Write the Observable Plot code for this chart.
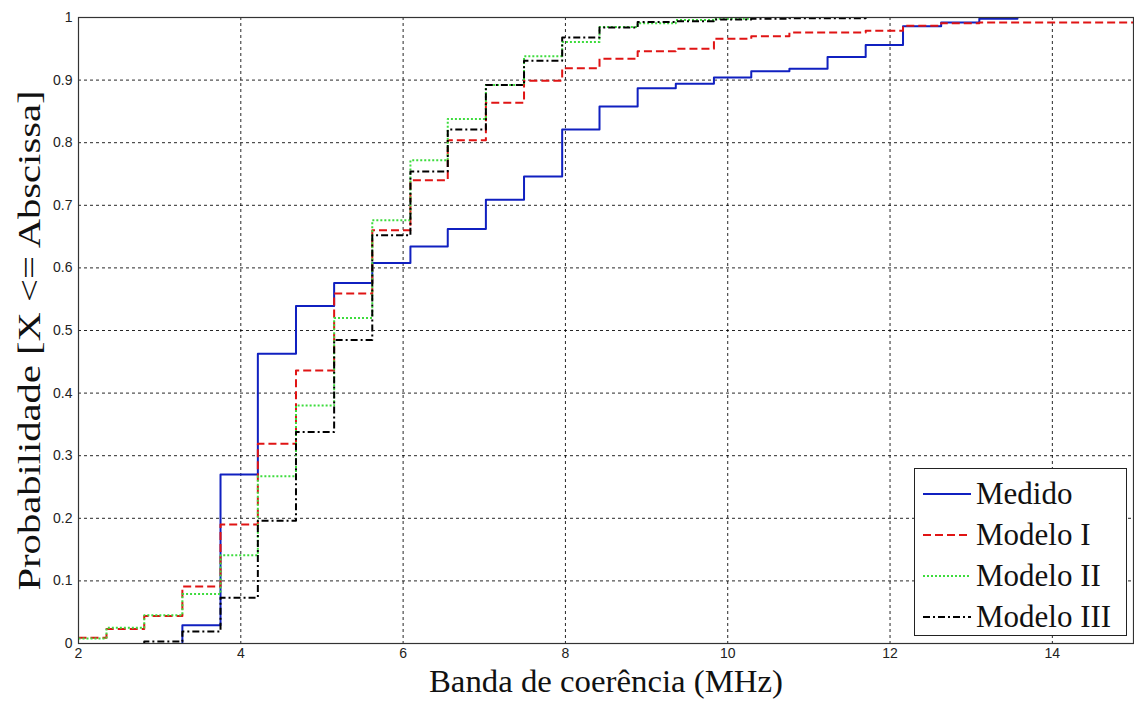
<!DOCTYPE html>
<html><head><meta charset="utf-8">
<script src="https://cdn.jsdelivr.net/npm/d3@7"></script>
<script src="https://cdn.jsdelivr.net/npm/@observablehq/plot@0.6"></script>
<style>
body{margin:0;background:#fff;}
#wrap{position:relative;width:1134px;height:703px;}
#legend{position:absolute;left:914px;top:468px;width:213px;height:168px;box-sizing:border-box;border:1px solid #222;background:#fff;font-family:"Liberation Serif","Times New Roman",serif;font-size:31px;color:#111;padding-top:4px;}
.row{display:flex;align-items:center;height:41px;white-space:nowrap;}
.row svg{margin-left:8px;margin-right:5px;flex:none;}
</style></head><body><div id="wrap"></div>
<script>
// ---- data ----
const xTicks = [2, 4, 6, 8, 10, 12, 14];
const yTicks = [0, 0.1, 0.2, 0.3, 0.4, 0.5, 0.6, 0.7, 0.8, 0.9, 1];
const xTitle = "Banda de coerência (MHz)";
const yTitle = "Probabilidade [X <= Abscissa]";

const seriesNames = ["Medido", "Modelo I", "Modelo II", "Modelo III"];
const seriesColors = ["#1020c0", "#e01414", "#3ddc3d", "#000000"];
const seriesDash = [null, "8,4", "2,2", "7,3,2,3"];

const medidoX = [3.28, 3.28, 3.75, 4.21, 4.68, 5.15, 5.62, 6.09, 6.55, 7.02, 7.49, 7.96, 8.42, 8.89, 9.36, 9.83, 10.29, 10.76, 11.23, 11.70, 12.16, 12.63, 13.10, 13.57];
const medidoY = [0, 0.029, 0.270, 0.463, 0.539, 0.576, 0.608, 0.634, 0.662, 0.709, 0.746, 0.821, 0.858, 0.887, 0.894, 0.904, 0.914, 0.918, 0.937, 0.956, 0.986, 0.992, 0.998, 1.0];

const modelo1X = [2, 2.345, 2.81, 3.28, 3.75, 4.21, 4.68, 5.15, 5.62, 6.09, 6.55, 7.02, 7.49, 7.96, 8.42, 8.89, 9.36, 9.83, 10.29, 10.76, 11.70, 12.16, 12.63, 13.10, 15];
const modelo1Y = [0.009, 0.023, 0.044, 0.091, 0.190, 0.319, 0.436, 0.559, 0.660, 0.740, 0.804, 0.864, 0.899, 0.919, 0.934, 0.946, 0.950, 0.966, 0.970, 0.976, 0.979, 0.987, 0.991, 0.992, 0.992];

const modelo2X = [2, 2.345, 2.81, 3.28, 3.75, 4.21, 4.68, 5.15, 5.62, 6.09, 6.55, 7.02, 7.49, 7.96, 8.42, 8.89, 9.36, 9.83, 10.29];
const modelo2Y = [0.008, 0.025, 0.045, 0.079, 0.141, 0.267, 0.380, 0.520, 0.676, 0.772, 0.838, 0.892, 0.938, 0.961, 0.985, 0.991, 0.996, 0.998, 1.0];

const modelo3X = [2.81, 2.81, 3.28, 3.75, 4.21, 4.68, 5.15, 5.62, 6.09, 6.55, 7.02, 7.49, 7.96, 8.42, 8.89, 9.36, 9.83, 10.29, 10.76, 11.23, 11.70];
const modelo3Y = [0, 0.003, 0.019, 0.073, 0.196, 0.338, 0.485, 0.652, 0.754, 0.821, 0.892, 0.931, 0.968, 0.984, 0.993, 0.994, 0.997, 0.998, 0.999, 0.999, 1.0];

const seriesX = [medidoX, modelo1X, modelo2X, modelo3X];
const seriesY = [medidoY, modelo1Y, modelo2Y, modelo3Y];
const series = seriesNames.map((name, i) => seriesX[i].map((x, j) => ({name, x, y: seriesY[i][j]})));

// ---- chart ----
const gridStyle = {stroke: "#000", strokeOpacity: 0.85, strokeWidth: 1, strokeDasharray: "3,3"};
const serif = "'Liberation Serif', 'Times New Roman', serif";
const chart = Plot.plot({
  width: 1134, height: 703,
  marginLeft: 78, marginRight: 1, marginTop: 17, marginBottom: 60,
  style: {fontFamily: "'Liberation Sans', Arial, sans-serif", fontSize: "14px", color: "#222", background: "#fff"},
  x: {domain: [2, 15]},
  y: {domain: [0, 1]},
  marks: [
    Plot.gridX(xTicks, gridStyle),
    Plot.gridY(yTicks, gridStyle),
    ...series.map((d, i) => Plot.line(d, {x: "x", y: "y", curve: "step-after", stroke: seriesColors[i], strokeWidth: 2, strokeDasharray: seriesDash[i], strokeLinecap: "butt"})),
    Plot.axisX({ticks: xTicks, tickSize: 0, tickPadding: 5, tickFormat: d => String(d), label: null, fill: "#222"}),
    Plot.axisY({ticks: yTicks, tickSize: 0, tickPadding: 6, tickFormat: d => String(d), label: null, fill: "#222"}),
    Plot.frame({stroke: "#333", strokeWidth: 1.2}),
    Plot.text([xTitle], {frameAnchor: "bottom", textAnchor: "start", dx: -177, dy: 48, fontSize: 31, fontFamily: serif, fill: "#111", className: "xtitle"}),
    Plot.text([yTitle], {frameAnchor: "left", textAnchor: "start", rotate: -90, dx: -48, dy: 260, fontSize: 31, fontFamily: serif, fill: "#111", className: "ytitle"})
  ]
});
const wrap = document.getElementById("wrap");
wrap.appendChild(chart);
d3.select(chart).selectAll(".xtitle text").attr("textLength", 354).attr("lengthAdjust", "spacingAndGlyphs");
d3.select(chart).selectAll(".ytitle text").attr("textLength", 500).attr("lengthAdjust", "spacingAndGlyphs");

// ---- legend ----
const legend = document.createElement("div");
legend.id = "legend";
seriesNames.forEach((name, i) => {
  const row = document.createElement("div");
  row.className = "row";
  const s = d3.create("svg").attr("width", 48).attr("height", 6);
  s.append("line").attr("x1", 0).attr("x2", 48).attr("y1", 3).attr("y2", 3)
    .attr("stroke", seriesColors[i]).attr("stroke-width", 2)
    .attr("stroke-dasharray", seriesDash[i]);
  row.appendChild(s.node());
  const t = document.createElement("span");
  t.textContent = name;
  row.appendChild(t);
  legend.appendChild(row);
});
wrap.appendChild(legend);
</script>
</body></html>
